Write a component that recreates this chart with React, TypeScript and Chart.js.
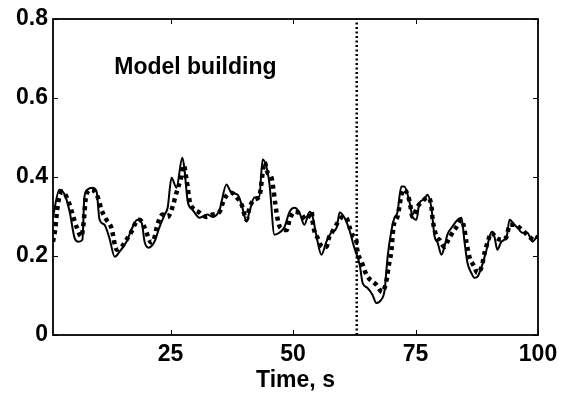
import React, { useEffect, useRef } from "react";
import { Chart, registerables } from "chart.js";

Chart.register(...registerables);

// Measured response (solid line)
const measuredT = [1, 2.3, 3.4, 4.4, 5.4, 6.2, 7.0, 7.4, 8.0, 9.1, 9.9, 10.5, 11.5, 12.5, 13.6, 14.6, 16.0, 17.2, 18.2, 19.1, 19.7, 20.5, 21.7, 22.7, 23.8, 24.4, 25.2, 26.2, 27.4, 27.8, 28.5, 29.5, 30.9, 32.5, 33.6, 35.0, 36.4, 37.4, 38.7, 39.5, 40.5, 41.1, 42.1, 43.1, 43.8, 44.6, 45.2, 46.2, 47.2, 48.2, 49.3, 50.3, 51.3, 52.3, 53.4, 54.0, 54.8, 55.8, 56.8, 57.8, 58.9, 59.5, 60.5, 61.5, 62.5, 63.6, 64.2, 65.2, 66.2, 67.0, 68.0, 68.7, 69.3, 70.1, 70.7, 71.3, 72.1, 72.7, 73.8, 74.4, 75.2, 75.8, 76.8, 77.4, 78.2, 78.9, 79.5, 80.3, 80.9, 81.5, 82.5, 83.6, 84.4, 85.0, 85.6, 86.4, 87.0, 87.6, 88.5, 89.5, 90.5, 91.1, 91.7, 92.5, 93.6, 94.2, 95.2, 95.8, 96.8, 97.8, 98.9, 99.7, 100];
const measuredV = [0.300, 0.368, 0.355, 0.312, 0.246, 0.236, 0.241, 0.348, 0.368, 0.373, 0.363, 0.292, 0.279, 0.246, 0.198, 0.211, 0.236, 0.272, 0.292, 0.284, 0.236, 0.221, 0.236, 0.272, 0.305, 0.322, 0.398, 0.373, 0.449, 0.424, 0.338, 0.317, 0.297, 0.305, 0.299, 0.317, 0.381, 0.360, 0.355, 0.330, 0.287, 0.312, 0.348, 0.350, 0.444, 0.424, 0.381, 0.254, 0.259, 0.272, 0.312, 0.322, 0.310, 0.279, 0.312, 0.299, 0.249, 0.203, 0.236, 0.259, 0.272, 0.310, 0.297, 0.266, 0.221, 0.178, 0.132, 0.119, 0.102, 0.081, 0.089, 0.114, 0.198, 0.266, 0.297, 0.310, 0.376, 0.376, 0.335, 0.299, 0.292, 0.335, 0.343, 0.355, 0.325, 0.249, 0.234, 0.203, 0.223, 0.254, 0.274, 0.292, 0.297, 0.236, 0.183, 0.157, 0.145, 0.147, 0.173, 0.216, 0.261, 0.249, 0.216, 0.236, 0.249, 0.292, 0.279, 0.272, 0.259, 0.259, 0.236, 0.246, 0.245];

// Model output (thick dotted line)
const modelT = [1, 1.5, 1.7, 2.1, 2.9, 4.4, 5.0, 5.8, 6.8, 7.2, 7.8, 8.9, 10.1, 10.9, 11.9, 12.9, 14.0, 15.0, 16.0, 17.0, 18.0, 18.7, 19.7, 21.1, 21.7, 22.3, 23.4, 24.4, 25.2, 26.2, 27.2, 27.7, 28.2, 28.5, 28.9, 29.5, 30.9, 32.3, 33.6, 35.0, 35.9, 37.4, 38.5, 39.5, 40.5, 41.1, 42.1, 43.1, 44.2, 44.8, 45.6, 46.0, 46.4, 46.8, 47.4, 48.7, 49.3, 50.3, 51.7, 52.7, 53.8, 54.0, 54.4, 55.0, 56.0, 56.8, 57.4, 58.0, 59.1, 60.1, 60.9, 61.5, 62.1, 62.9, 63.1, 64.0, 65.0, 67.0, 68.2, 69.1, 69.5, 70.1, 70.5, 71.3, 72.5, 73.1, 73.8, 74.4, 75.4, 76.4, 77.4, 78.2, 78.5, 79.3, 79.9, 80.9, 81.5, 82.3, 83.4, 84.4, 85.0, 85.4, 86.0, 87.0, 87.6, 88.5, 89.1, 89.7, 90.5, 91.5, 92.5, 93.6, 94.2, 95.2, 96.2, 97.2, 98.2, 99.3, 100];
const modelV = [0.236, 0.272, 0.299, 0.338, 0.363, 0.330, 0.305, 0.274, 0.249, 0.279, 0.355, 0.368, 0.350, 0.317, 0.292, 0.272, 0.216, 0.223, 0.241, 0.261, 0.287, 0.292, 0.272, 0.234, 0.246, 0.279, 0.305, 0.299, 0.317, 0.360, 0.401, 0.430, 0.398, 0.373, 0.338, 0.322, 0.310, 0.299, 0.305, 0.312, 0.343, 0.360, 0.348, 0.330, 0.292, 0.322, 0.343, 0.350, 0.437, 0.411, 0.398, 0.368, 0.330, 0.297, 0.272, 0.266, 0.292, 0.312, 0.305, 0.292, 0.312, 0.287, 0.261, 0.246, 0.223, 0.223, 0.249, 0.261, 0.284, 0.299, 0.297, 0.274, 0.254, 0.241, 0.216, 0.185, 0.152, 0.127, 0.109, 0.140, 0.173, 0.216, 0.274, 0.299, 0.368, 0.363, 0.338, 0.299, 0.325, 0.338, 0.348, 0.330, 0.292, 0.249, 0.241, 0.223, 0.236, 0.254, 0.274, 0.292, 0.266, 0.234, 0.198, 0.173, 0.157, 0.173, 0.208, 0.234, 0.259, 0.246, 0.241, 0.249, 0.279, 0.279, 0.272, 0.261, 0.249, 0.241, 0.250];

// End of model building period (vertical dotted line)
const splitTime = [63, 63];
const splitValue = [0, 0.8];

const xTickValues = [25, 50, 75, 100];
const yTickValues = [0, 0.2, 0.4, 0.6, 0.8];
const annotationText = "Model building";
const xTitle = "Time, s";

const FONT_FAMILY = "'Liberation Sans', Arial, Helvetica, sans-serif";

const framePlugin = {
  id: "matlabFrame",
  afterDraw(chart: any) {
    const { ctx, chartArea, scales } = chart;
    const { left, right, top, bottom } = chartArea;
    const xs = scales.x;
    const ys = scales.y;
    ctx.save();
    ctx.strokeStyle = "#000";
    ctx.lineWidth = 1;
    const tl = 5;
    ctx.beginPath();
    for (const v of xTickValues) {
      const px = Math.round(xs.getPixelForValue(v)) + 0.5;
      ctx.moveTo(px, bottom);
      ctx.lineTo(px, bottom - tl);
      ctx.moveTo(px, top);
      ctx.lineTo(px, top + tl);
    }
    for (const v of yTickValues) {
      const py = Math.round(ys.getPixelForValue(v)) + 0.5;
      ctx.moveTo(left, py);
      ctx.lineTo(left + tl, py);
      ctx.moveTo(right, py);
      ctx.lineTo(right - tl, py);
    }
    ctx.stroke();
    ctx.lineWidth = 1.8;
    ctx.strokeRect(left, top, right - left, bottom - top);
    ctx.fillStyle = "#000";
    ctx.font = `bold 23px ${FONT_FAMILY}`;
    ctx.textAlign = "left";
    ctx.textBaseline = "alphabetic";
    ctx.fillText(annotationText, xs.getPixelForValue(13.5), ys.getPixelForValue(0.66));
    ctx.restore();
  },
};

export default function App() {
  const ref = useRef<HTMLCanvasElement | null>(null);

  useEffect(() => {
    document.body.style.margin = "0";
    const canvas = ref.current;
    if (!canvas) return;
    const chart = new Chart(canvas, {
      type: "line",
      data: {
        datasets: [
          {
            label: "Measured",
            data: measuredT.map((t, i) => ({ x: t, y: measuredV[i] })),
            borderColor: "#000",
            borderWidth: 2,
            pointRadius: 0,
            cubicInterpolationMode: "monotone",
            fill: false,
          },
          {
            label: "Model",
            data: modelT.map((t, i) => ({ x: t, y: modelV[i] })),
            borderColor: "#000",
            borderWidth: 4.5,
            borderDash: [4, 4],
            borderCapStyle: "butt",
            pointRadius: 0,
            cubicInterpolationMode: "monotone",
            fill: false,
          },
          {
            label: "Split",
            data: splitTime.map((t, i) => ({ x: t, y: splitValue[i] })),
            borderColor: "#000",
            borderWidth: 2.5,
            borderDash: [2, 2.5],
            pointRadius: 0,
            fill: false,
          },
        ],
      },
      options: {
        animation: false,
        responsive: false,
        devicePixelRatio: 1,
        layout: { padding: { top: 19, right: 26, left: 0, bottom: 0 } },
        plugins: {
          legend: { display: false },
          tooltip: { enabled: false },
        },
        scales: {
          x: {
            type: "linear",
            min: 1,
            max: 100,
            grid: { display: false, drawTicks: false },
            border: { display: false },
            afterBuildTicks: (scale: any) => {
              scale.ticks = xTickValues.map((v) => ({ value: v }));
            },
            afterFit: (scale: any) => {
              scale.height = 59;
            },
            ticks: {
              color: "#000",
              padding: 6,
              maxRotation: 0,
              autoSkip: false,
              font: { family: FONT_FAMILY, size: 23, weight: "bold" },
              callback: (v: any) => String(v),
            },
            title: {
              display: true,
              text: xTitle,
              color: "#000",
              padding: { top: 0, bottom: 0 },
              font: { family: FONT_FAMILY, size: 23, weight: "bold" },
            },
          },
          y: {
            type: "linear",
            min: 0,
            max: 0.8,
            grid: { display: false, drawTicks: false },
            border: { display: false },
            afterBuildTicks: (scale: any) => {
              scale.ticks = yTickValues.map((v) => ({ value: v }));
            },
            afterFit: (scale: any) => {
              scale.width = 53;
            },
            ticks: {
              color: "#000",
              padding: 5,
              autoSkip: false,
              font: { family: FONT_FAMILY, size: 23, weight: "bold" },
              callback: (v: any) => String(v),
            },
          },
        },
      },
      plugins: [framePlugin],
    });
    return () => chart.destroy();
  }, []);

  return (
    <div style={{ width: 564, height: 394, background: "#fff" }}>
      <canvas ref={ref} width={564} height={394} style={{ display: "block" }} />
    </div>
  );
}
